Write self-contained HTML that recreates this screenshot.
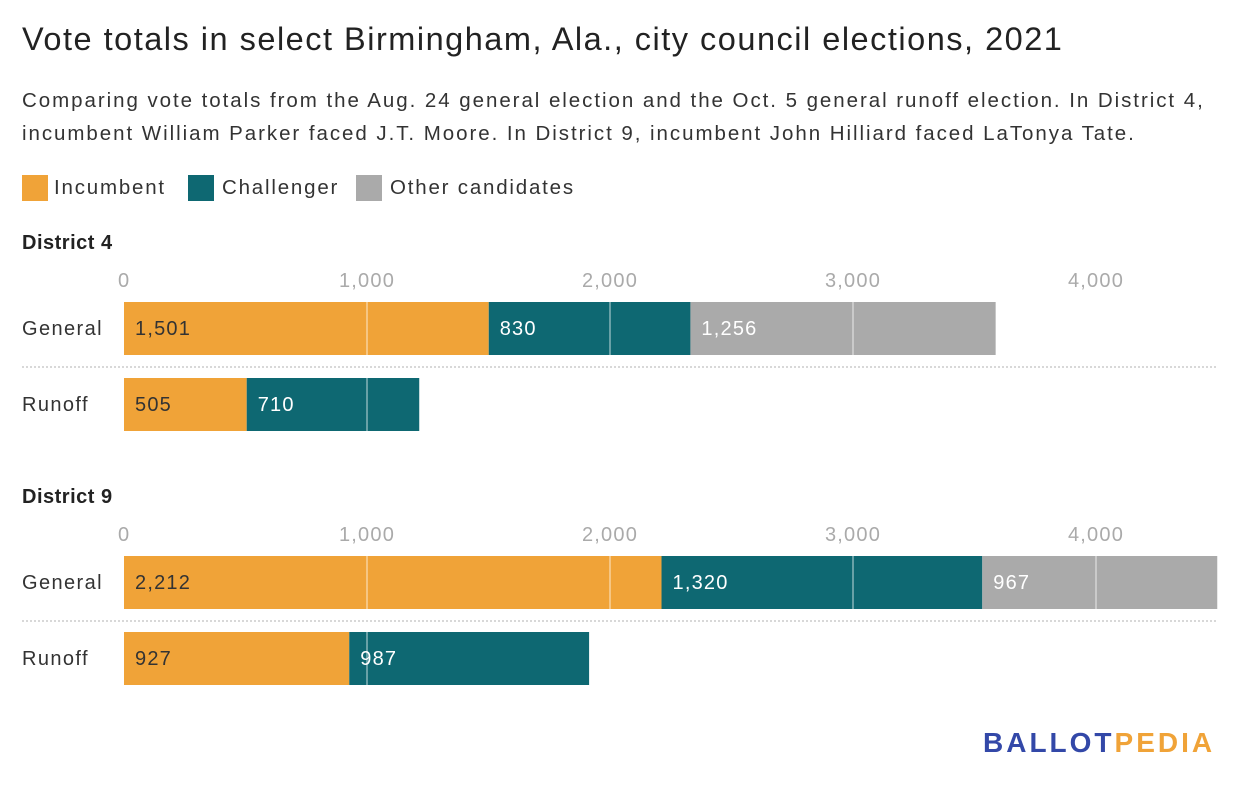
<!DOCTYPE html>
<html><head><meta charset="utf-8">
<style>
body{margin:0;background:#fff;font-family:"Liberation Sans",sans-serif;width:1240px;height:788px;overflow:hidden;position:relative;color:#333}
.t{position:absolute;white-space:nowrap}
.sw{position:absolute;top:175px;width:26px;height:26px}
.lg{position:absolute;top:175px;font-size:20.5px;letter-spacing:1.8px;line-height:26px}
</style></head><body>
<div class="t" style="left:22px;top:21px;font-size:32.5px;color:#222;letter-spacing:1.5px">Vote totals in select Birmingham, Ala., city council elections, 2021</div>
<div class="t" style="left:22px;top:84px;font-size:20.5px;line-height:33px;color:#333;letter-spacing:1.95px">Comparing vote totals from the Aug. 24 general election and the Oct. 5 general runoff election. In District 4,<br>incumbent William Parker faced J.T. Moore. In District 9, incumbent John Hilliard faced LaTonya Tate.</div>
<div>
<span class="sw" style="left:22px;background:#f0a338"></span><span class="lg" style="left:54px">Incumbent</span>
<span class="sw" style="left:188px;background:#0e6872"></span><span class="lg" style="left:222px">Challenger</span>
<span class="sw" style="left:356px;background:#aaaaaa"></span><span class="lg" style="left:390px">Other candidates</span>
</div>
<svg id="chart" width="1240" height="788" style="position:absolute;left:0;top:0"></svg>
<div class="t" style="left:983px;top:727px;font-size:28px;font-weight:bold;letter-spacing:3px"><span style="color:#3348a8">BALLOT</span><span style="color:#f0a338">PEDIA</span></div>
<script>
const districts=["District 4","District 9"];
const rowLabels=["General","Runoff"];
const incumbent=[[1501,505],[2212,927]];
const challenger=[[830,710],[1320,987]];
const other=[[1256,0],[967,0]];
const ticks=[0,1000,2000,3000,4000];
const tickLabels=["0","1,000","2,000","3,000","4,000"];
const colors=["#f0a338","#0e6872","#aaaaaa"];
const svg=document.getElementById('chart');
const NS="http://www.w3.org/2000/svg";
const x0=124,pxPer=243/1000;
const xs=v=>x0+v*pxPer;
function mk(tag,attrs){const e=document.createElementNS(NS,tag);for(const k in attrs)e.setAttribute(k,attrs[k]);svg.appendChild(e);return e;}
const blockTop=[230,484];
districts.forEach((d,di)=>{
  const top=blockTop[di];
  const h=mk('text',{x:22,y:top+19,'font-size':20,'font-weight':'bold',fill:'#222','letter-spacing':0.5});h.textContent=d;
  
  
  ticks.forEach((t,ti)=>{const tx=mk('text',{x:t===0?xs(t)-6:xs(t),y:top+57,'font-size':20,fill:'#aaa','text-anchor':t===0?'start':'middle','letter-spacing':1.2});tx.textContent=tickLabels[ti];
    
    });
  rowLabels.forEach((r,ri)=>{
    const by=top+72+ri*76;
    const lab=mk('text',{x:22,y:by+33,'font-size':20,fill:'#333','letter-spacing':1.4});lab.textContent=r;
    
    
    const vals=[incumbent[di][ri],challenger[di][ri],other[di][ri]];
    let acc=0;
    vals.forEach((v,si)=>{
      if(!v)return;
      const rc=mk('rect',{x:xs(acc),y:by,width:xs(acc+v)-xs(acc),height:53,fill:colors[si]});
      
      
      const vt=mk('text',{x:xs(acc)+11,y:by+33,'font-size':20,fill:si===0?'#333':'#fff','letter-spacing':1.2});vt.textContent=v.toLocaleString('en-US');
      
      
      acc+=v;
    });
    ticks.slice(1).forEach(t=>{if(xs(t)<xs(acc)){const g=mk('line',{x1:xs(t),x2:xs(t),y1:by,y2:by+53,stroke:'#fff','stroke-opacity':0.5,'stroke-width':1.5});
      
      }});
    if(ri===0){const s=mk('line',{x1:22,x2:1218,y1:by+65,y2:by+65,stroke:'#ccc','stroke-width':1.5,'stroke-dasharray':'2,2'});
      
      }
  });
});
</script>
</body></html>
